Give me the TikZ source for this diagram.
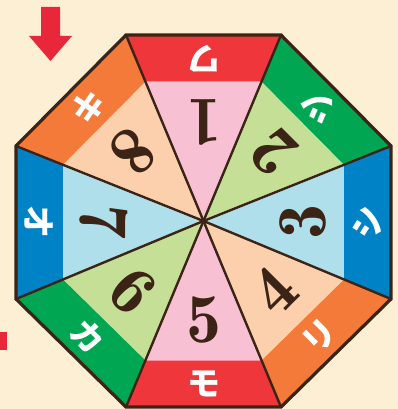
\documentclass[tikz,border=0pt]{standalone}
\usepackage{fontspec}
\newfontfamily\jp{Noto Sans CJK JP}
\usetikzlibrary{calc}
\definecolor{bgc}{HTML}{FDEFD4}
\definecolor{bgt}{HTML}{E6BD86}
\definecolor{redband}{HTML}{EE363B}
\definecolor{pinkin}{HTML}{F7C1D3}
\definecolor{greenband}{HTML}{00A651}
\definecolor{greenin}{HTML}{C5DF97}
\definecolor{blueband}{HTML}{0082C6}
\definecolor{bluein}{HTML}{AEDFEA}
\definecolor{orangeband}{HTML}{F47A3A}
\definecolor{peachin}{HTML}{FCCFAD}
\definecolor{darkline}{HTML}{3B2316}
\definecolor{arrowred}{HTML}{E8273B}
\pgfdeclareradialshading{bgshade}{\pgfpoint{0bp}{0bp}}{color(0bp)=(bgc); color(24bp)=(bgc); color(50bp)=(bgt)}
\tikzset{
  num/.style={font=\fontsize{70}{70}\fontseries{b}\selectfont, text=darkline, inner sep=0pt},
  kana/.style={font=\jp\bfseries\fontsize{33}{33}\selectfont, text=white, inner sep=0pt},
  spoke/.style={draw=darkline, line width=2.4pt},
  rim/.style={draw=darkline, line width=3.2pt, line join=miter},
}
\begin{document}
\begin{tikzpicture}[x=1pt,y=-1pt]
\useasboundingbox (0,0) rectangle (398,409);
\fill[bgc] (0,0) rectangle (398,409);
\begin{scope}
\clip (0,0) rectangle (398,409);
\shade[shading=bgshade] (130,120) circle (430);
\end{scope}
% red marks
\fill[arrowred] (41,7) -- (60,7) -- (60,36) -- (72,36) -- (50.5,61) -- (29,36) -- (41,36) -- cycle;
\fill[arrowred] (0,332) rectangle (7,350);
% geometry
\coordinate (C) at (203.5,221);
\coordinate (V1) at (126,35);
\coordinate (V2) at (281,35);
\coordinate (V3) at (391,146);
\coordinate (V4) at (391,299);
\coordinate (V5) at (281,407);
\coordinate (V6) at (126,407);
\coordinate (V7) at (16,299);
\coordinate (V8) at (16,146);
\foreach \i in {1,...,8} {
  \coordinate (P\i) at ($(C)!0.75!(V\i)$);
}
\foreach \a/\b/\inn/\band in {1/2/pinkin/redband, 2/3/greenin/greenband, 3/4/bluein/blueband, 4/5/peachin/orangeband, 5/6/pinkin/redband, 6/7/greenin/greenband, 7/8/bluein/blueband, 8/1/peachin/orangeband} {
  \fill[\inn] (C) -- (V\a) -- (V\b) -- cycle;
  \fill[\band] (P\a) -- (V\a) -- (V\b) -- (P\b) -- cycle;
  \coordinate (M\a) at ($(V\a)!0.5!(V\b)$);
}
\foreach \i in {1,...,8} {
  \draw[spoke] (C) -- (V\i);
}
\draw[rim] (V1) -- (V2) -- (V3) -- (V4) -- (V5) -- (V6) -- (V7) -- (V8) -- cycle;
% numbers
\node[num, rotate=180] (n1) at ($(C)!0.53!(M1)$) {1};
\node[num, rotate=135] (n2) at ($(C)!0.53!(M2)$) {2};
\node[num, rotate=90]  (n3) at ($(C)!0.53!(M3)$) {3};
\node[num, rotate=45]  (n4) at ($(C)!0.53!(M4)$) {4};
\node[num, rotate=0]   (n5) at ($(C)!0.53!(M5)$) {5};
\node[num, rotate=-45] (n6) at ($(C)!0.53!(M6)$) {6};
\node[num, rotate=-90] (n7) at ($(C)!0.53!(M7)$) {7};
\node[num, rotate=-135] (n8) at ($(C)!0.53!(M8)$) {8};
% kana
\node[kana, rotate=180] (k1) at ($(C)!0.875!(M1)$) {ワ};
\node[kana, rotate=135] (k2) at ($(C)!0.875!(M2)$) {ツ};
\node[kana, rotate=90]  (k3) at ($(C)!0.875!(M3)$) {シ};
\node[kana, rotate=45]  (k4) at ($(C)!0.875!(M4)$) {リ};
\node[kana, rotate=0]   (k5) at ($(C)!0.875!(M5)$) {モ};
\node[kana, rotate=-45] (k6) at ($(C)!0.875!(M6)$) {カ};
\node[kana, rotate=-90] (k7) at ($(C)!0.875!(M7)$) {オ};
\node[kana, rotate=-135] (k8) at ($(C)!0.875!(M8)$) {キ};
\end{tikzpicture}
\end{document}
